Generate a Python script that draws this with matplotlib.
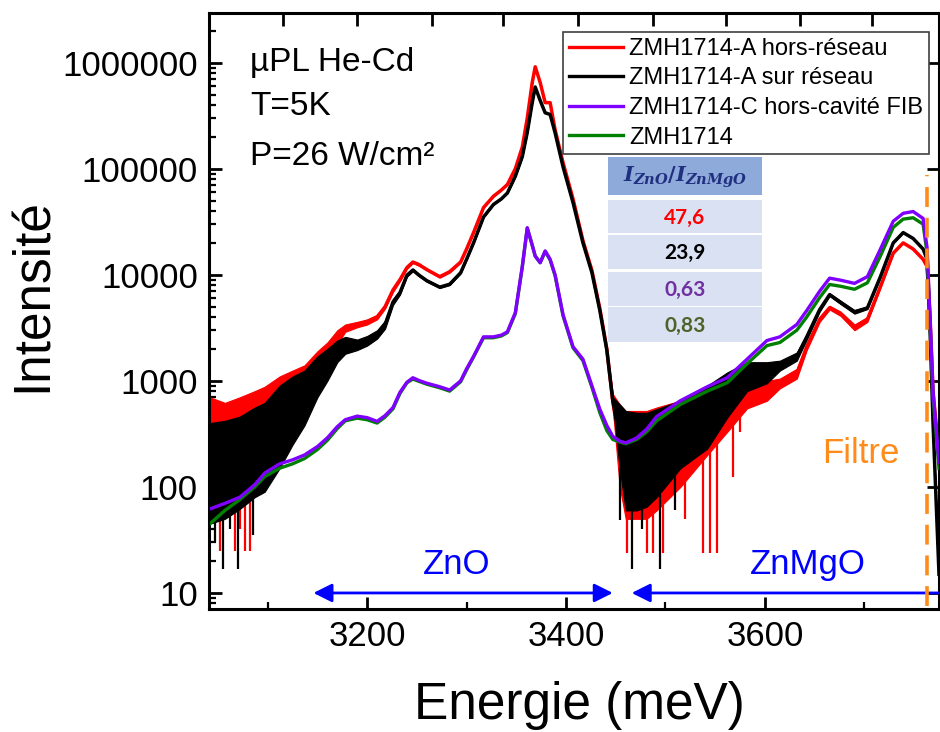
import numpy as np
import matplotlib
matplotlib.use('Agg')
import matplotlib.pyplot as plt
from matplotlib.patches import Rectangle
from matplotlib.lines import Line2D
import matplotlib.ticker as ticker

plt.rcParams['font.family'] = ['Liberation Sans', 'DejaVu Sans']
plt.rcParams['mathtext.fontset'] = 'custom'
plt.rcParams['mathtext.it'] = 'DejaVu Serif:italic:bold'
plt.rcParams['mathtext.rm'] = 'DejaVu Serif:bold'

# Energy grid (meV)
energy = [3042, 3057, 3072, 3087, 3097, 3112, 3125, 3137, 3150, 3160,
          3170, 3178, 3190, 3200, 3210, 3218, 3226, 3233, 3240, 3246,
          3252, 3260, 3273, 3283, 3294, 3300, 3307, 3317, 3327, 3335,
          3341, 3349, 3356, 3361, 3366, 3369, 3374, 3379, 3384, 3389,
          3397, 3407, 3417, 3426, 3434, 3441, 3447, 3454, 3460, 3471,
          3481, 3491, 3515, 3542, 3562, 3582, 3602, 3615, 3632, 3642,
          3655, 3665, 3676, 3690, 3703, 3716, 3729, 3739, 3749, 3759,
          3763, 3766, 3769, 3775]

# ZMH1714-C hors-cavite FIB (violet)
purple = [62, 70, 80, 105, 135, 165, 180, 200, 240, 290,
          370, 430, 465, 450, 415, 470, 560, 780, 970, 1070,
          1010, 950, 880, 820, 1000, 1300, 1700, 2600, 2600, 2700,
          2900, 4400, 12000, 27800, 19000, 15000, 13000, 16800, 14000, 10000,
          4200, 2100, 1600, 900, 540, 380, 300, 270, 260, 290,
          350, 460, 650, 880, 1070, 1600, 2400, 2600, 3400, 4600,
          7000, 9300, 8900, 8300, 9600, 17400, 32000, 38000, 39500, 34000,
          18000, 4000, 800, 170]

# ZMH1714 (vert)
green = [45, 60, 76, 100, 125, 150, 165, 185, 225, 275,
         355, 420, 445, 430, 400, 455, 545, 760, 960, 1040,
         990, 930, 860, 800, 980, 1270, 1680, 2550, 2550, 2650,
         2850, 4300, 11800, 27500, 19000, 15000, 13000, 16600, 13800, 9800,
         4100, 2050, 1550, 870, 500, 340, 280, 265, 255, 280,
         330, 420, 600, 800, 960, 1450, 2150, 2300, 3000, 4000,
         6100, 8100, 7800, 7300, 8400, 15000, 28000, 33500, 34500, 30000,
         16000, 3600, 700, 150]

# ZMH1714-A sur reseau (noir): upper / lower edge of the noisy trace
black_hi = [400, 420, 460, 560, 620, 900, 1100, 1250, 1700, 2000,
            2400, 2600, 2450, 2650, 3000, 3700, 5900, 7100, 10200, 11400,
            10200, 9000, 7800, 8300, 10600, 14000, 20000, 35000, 46000, 52000,
            59000, 85000, 130000, 220000, 420000, 590000, 440000, 337000, 325000, 218000,
            104000, 48000, 20000, 10500, 4600, 1950, 700, 600, 520, 500,
            500, 540, 650, 900, 1200, 1500, 1500, 1550, 1850, 2750,
            4900, 6700, 5700, 4650, 5000, 9700, 20000, 25000, 22000, 17500,
            14000, 3000, 400, 15]
black_lo = [45, 50, 62, 80, 90, 150, 250, 380, 700, 1000,
            1500, 1800, 1950, 2150, 2500, 3100, 5200, 6500, 9600, 10800,
            9700, 8600, 7500, 8000, 10300, 14000, 20000, 35000, 46000, 52000,
            59000, 85000, 130000, 220000, 420000, 590000, 440000, 337000, 325000, 218000,
            104000, 48000, 20000, 10500, 4600, 1950, 600, 150, 60, 60,
            65, 80, 150, 230, 450, 800, 950, 1250, 1550, 2450,
            4500, 6300, 5300, 4300, 4750, 9400, 20000, 25000, 22000, 17500,
            14000, 3000, 400, 15]

# ZMH1714-A hors-reseau (rouge)
red_hi = [700, 620, 700, 800, 880, 1100, 1250, 1400, 1900, 2300,
          3000, 3400, 3600, 3800, 4200, 5200, 7500, 9300, 12000, 13500,
          12800, 11400, 9800, 10900, 13400, 17500, 25000, 43000, 55000, 63000,
          71000, 100000, 160000, 300000, 650000, 915000, 650000, 420000, 420000, 233000,
          114000, 52000, 21000, 11000, 4800, 2000, 750, 600, 520, 520,
          520, 560, 650, 800, 950, 1000, 1000, 1050, 1300, 2250,
          4000, 5100, 4500, 3400, 4000, 7900, 16000, 20000, 17500, 14000,
          12000, 4000, 800, 200]
red_lo = [150, 150, 180, 220, 280, 400, 550, 700, 1200, 1600,
          2200, 2900, 3200, 3400, 3800, 4800, 6900, 8700, 11400, 12900,
          12200, 11000, 9400, 10500, 13000, 17500, 25000, 43000, 55000, 63000,
          71000, 100000, 160000, 300000, 650000, 915000, 650000, 420000, 420000, 233000,
          114000, 52000, 21000, 11000, 4800, 2000, 550, 100, 50, 50,
          50, 60, 100, 200, 330, 550, 650, 850, 1050, 1950,
          3600, 4700, 4100, 3000, 3600, 7500, 16000, 20000, 17500, 14000,
          12000, 4000, 800, 200]

# deepest downward spikes of the noisy traces
red_spike_e = [3052, 3067, 3072, 3077, 3082, 3110, 3128, 3461, 3466, 3481,
               3487, 3497, 3505, 3520, 3538, 3545, 3552, 3568, 3575]
red_spike_v = [25, 25, 40, 25, 25, 180, 300, 24, 60, 24,
               24, 24, 80, 50, 24, 24, 24, 125, 330]
black_spike_e = [3047, 3055, 3062, 3070, 3085, 3454, 3466, 3476, 3494, 3510]
black_spike_v = [30, 17, 40, 17, 35, 49, 17, 40, 17, 60]

labels = ['ZMH1714-A hors-réseau', 'ZMH1714-A sur réseau',
          'ZMH1714-C hors-cavité FIB', 'ZMH1714']
colors = ['#ff0000', '#000000', '#8000ff', '#008000']

ratio_values = ['47,6', '23,9', '0,63', '0,83']
ratio_colors = ['#ff0000', '#000000', '#7030a0', '#4f6228']

top_ticks = [3115, 3190, 3265, 3337, 3412, 3487, 3561, 3635, 3708]
filter_e = 3763

fig = plt.figure(figsize=(9.4, 7.32), dpi=100)
ax = fig.add_axes([209 / 940, 1 - 609 / 732, 730 / 940, 596.3 / 732])

E = np.array(energy, dtype=float)


def noisy(hi, lo, se, sv, color, z):
    hi = np.array(hi, dtype=float)
    lo = np.array(lo, dtype=float)
    ax.fill_between(E, lo, hi, color=color, lw=0.8, zorder=z)
    ax.plot(E, np.sqrt(hi * lo), color=color, lw=2.5, zorder=z)
    base = 10 ** np.interp(se, E, np.log10(lo))
    ax.vlines(se, sv, base, color=color, lw=1.6, zorder=z)


noisy(red_hi, red_lo, red_spike_e, red_spike_v, colors[0], 2)
noisy(black_hi, black_lo, black_spike_e, black_spike_v, colors[1], 3)
ax.plot(E, green, color=colors[3], lw=2.4, zorder=4)
ax.plot(E, purple, color=colors[2], lw=2.4, zorder=5)

# filter edge
ax.plot([filter_e, filter_e], [7.5, 88000], color='#ff8c1a', lw=2.6,
        dashes=(5.5, 3), zorder=6)

ax.set_yscale('log')
ax.set_xlim(3041, 3775)
ax.set_ylim(7.06, 2.96e6)

ax.yaxis.set_major_locator(ticker.LogLocator(base=10, numticks=10))
ax.yaxis.set_minor_locator(ticker.LogLocator(base=10, subs=np.arange(2, 10), numticks=20))
ax.yaxis.set_major_formatter(ticker.FuncFormatter(lambda v, p: f'{int(round(v))}'))
ax.yaxis.set_minor_formatter(ticker.NullFormatter())
ax.xaxis.set_major_locator(ticker.MultipleLocator(200))
ax.xaxis.set_minor_locator(ticker.MultipleLocator(100))

for s in ax.spines.values():
    s.set_linewidth(2.2)
ax.tick_params(which='major', direction='in', length=9, width=2, labelsize=25,
               left=True, right=True, top=False, bottom=True, pad=8)
ax.tick_params(which='minor', direction='in', length=5, width=1.6,
               left=True, right=False, top=False, bottom=True)

tw = ax.twiny()
tw.set_xlim(ax.get_xlim())
tw.set_xticks(top_ticks)
tw.tick_params(direction='in', length=9, width=2, labeltop=False)
tw.xaxis.set_minor_locator(ticker.NullLocator())

fig.text(33 / 940, 1 - 295 / 732, 'Intensité', rotation=90, fontsize=37,
         ha='center', va='center')
fig.text(579 / 940, 1 - 706 / 732, 'Energie (meV)', fontsize=37,
         ha='center', va='center')

# info text
for txt, yb in zip(['µPL He-Cd', 'T=5K', 'P=26 W/cm²'], [71, 115, 165]):
    fig.text(250 / 940, 1 - yb / 732, txt, fontsize=24, va='baseline')

# ZnO / ZnMgO ranges
ax.annotate('', xy=(3146, 10), xytext=(3447, 10),
            arrowprops=dict(arrowstyle='<|-|>', color='#0000ff', lw=2,
                            mutation_scale=28, shrinkA=0, shrinkB=0))
ax.annotate('', xy=(3466, 10), xytext=(3780, 10),
            arrowprops=dict(arrowstyle='-|>', color='#0000ff', lw=2,
                            mutation_scale=28, shrinkA=0, shrinkB=0),
            annotation_clip=False)
ax.text(3290, 15, 'ZnO', color='#0000ff', fontsize=25, ha='center', va='baseline')
ax.text(3643, 15, 'ZnMgO', color='#0000ff', fontsize=25, ha='center', va='baseline')
ax.text(3696, 168, 'Filtre', color='#ff8c1a', fontsize=25, ha='center', va='baseline')

handles = [Line2D([], [], color=c, lw=2.4) for c in colors]
leg = ax.legend(handles, labels, loc='upper right',
                bbox_to_anchor=(929 / 940, 1 - 32 / 732),
                bbox_transform=fig.transFigure, fontsize=17, frameon=True,
                fancybox=False, framealpha=1, edgecolor='#404040',
                handlelength=2.3, handletextpad=0.25, labelspacing=0.32,
                borderpad=0.25, borderaxespad=0)
leg.get_frame().set_linewidth(1.2)
leg.set_zorder(10)

# ratio table
def px(x, y):
    return x / 940, 1 - y / 732


x0, x1 = 608, 762
fig.add_artist(Rectangle(px(x0, 195), (x1 - x0) / 940, 38 / 732,
                         transform=fig.transFigure, facecolor='#8eaadb', lw=0))
fig.text(*px((x0 + x1) / 2, 177), r'$I_{ZnO}/I_{ZnMgO}$', color='#1f3080',
         fontsize=15, ha='center', va='center')
rows = [(200, 233), (235, 269), (272, 306), (307, 342)]
for (ya, yb), val, c in zip(rows, ratio_values, ratio_colors):
    fig.add_artist(Rectangle(px(x0, yb), (x1 - x0) / 940, (yb - ya) / 732,
                             transform=fig.transFigure, facecolor='#d9e1f2', lw=0))
    fig.text(*px((x0 + x1) / 2, (ya + yb) / 2 + 1), val, color=c, fontsize=15,
             fontweight='bold', family=['Lato', 'DejaVu Sans'],
             ha='center', va='center')

fig.savefig('out.png', dpi=100)
